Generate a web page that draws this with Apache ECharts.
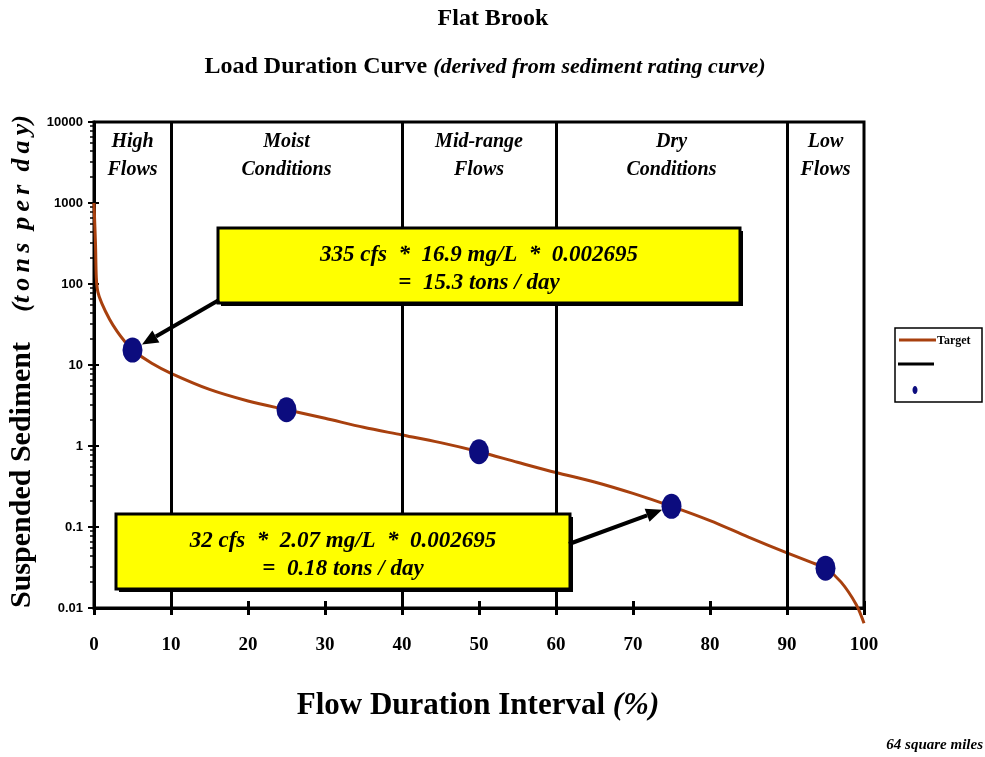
<!DOCTYPE html>
<html><head><meta charset="utf-8">
<script src="https://cdn.jsdelivr.net/npm/echarts@6/dist/echarts.min.js"></script>
<style>html,body{margin:0;padding:0;background:#fff}#c{width:985px;height:757px}</style>
</head><body><div id="c"></div>
<script>
// ---- data ----
const flowPct  = [0, 0.2, 0.3, 0.5, 1, 2, 3, 4, 5, 7.5, 10, 15, 20, 25, 30, 35, 40, 45, 50, 55, 60, 65, 70, 75, 80, 85, 90, 93, 95, 97, 99, 100];
const loadTons = [1000, 300, 120, 80, 58, 37, 26, 19.5, 15.3, 10.5, 7.9, 5.0, 3.6, 2.8, 2.2, 1.7, 1.37, 1.1, 0.85, 0.63, 0.47, 0.36, 0.26, 0.18, 0.12, 0.075, 0.048, 0.037, 0.031, 0.021, 0.011, 0.0065];
const pointPct  = [5, 25, 50, 75, 95];
const pointTons = [15.3, 2.8, 0.85, 0.18, 0.031];
const xTickLabels = ['0','10','20','30','40','50','60','70','80','90','100'];
const yTickLabels = ['0.01','0.1','1','10','100','1000','10000'];
const zoneEdges = [0, 10, 40, 60, 90, 100];
const zoneNames = ['High\nFlows', 'Moist\nConditions', 'Mid-range\nFlows', 'Dry\nConditions', 'Low\nFlows'];
const note1 = ['335 cfs  *  16.9 mg/L  *  0.002695', '=  15.3 tons / day'];
const note2 = ['32 cfs  *  2.07 mg/L  *  0.002695', '=  0.18 tons / day'];

const SERIF = '"Liberation Serif", "DejaVu Serif", serif';
const NARROW = '"Liberation Sans Narrow", "Liberation Sans", sans-serif';
const brown = '#a8400e';
const navy = '#0c0c7e';

const chart = echarts.init(document.getElementById('c'));
const grid = {left: 94, right: 121, top: 122, bottom: 149, show: true, borderColor: '#000', borderWidth: 3, backgroundColor: 'transparent'};

const zoneAreas = zoneNames.map((n, i) => [{xAxis: zoneEdges[i], name: n}, {xAxis: zoneEdges[i + 1]}]);
const innerLines = zoneEdges.slice(1, -1).map(v => ({xAxis: v}));

chart.setOption({
  animation: false,
  backgroundColor: '#fff',
  grid: grid,
  xAxis: [{
    type: 'value', min: 0, max: 100, interval: 10,
    axisLine: {lineStyle: {color: '#000', width: 3}},
    axisTick: {length: 7, lineStyle: {color: '#000', width: 3}},
    axisLabel: {margin: 28, fontFamily: SERIF, fontWeight: 'bold', fontSize: 19, color: '#000',
      formatter: (v) => xTickLabels[Math.round(v / 10)]},
    splitLine: {show: false}
  }, {
    type: 'value', min: 0, max: 100, interval: 10, position: 'bottom',
    axisLine: {show: false},
    axisTick: {inside: true, length: 7, lineStyle: {color: '#000', width: 3}},
    axisLabel: {show: false}, splitLine: {show: false}
  }],
  yAxis: [{
    type: 'log', min: 0.01, max: 10000, logBase: 10,
    axisLine: {show: true, lineStyle: {color: '#000', width: 3}},
    axisTick: {length: 6, lineStyle: {color: '#000', width: 2}},
    minorTick: {show: true, splitNumber: 8, length: 4, lineStyle: {color: '#000', width: 1.5}},
    axisLabel: {margin: 11, fontFamily: NARROW, fontWeight: 'bold', fontSize: 13, color: '#000',
      formatter: (v) => yTickLabels[Math.round(Math.log10(v)) + 2]},
    splitLine: {show: false}
  }, {
    type: 'log', min: 0.01, max: 10000, logBase: 10, position: 'left',
    axisLine: {show: false},
    axisTick: {inside: true, length: 5, lineStyle: {color: '#000', width: 2}},
    axisLabel: {show: false}, splitLine: {show: false}
  }],
  series: [{
    name: 'Target', type: 'line', xAxisIndex: 0, yAxisIndex: 0,
    data: flowPct.map((x, i) => [x, loadTons[i]]),
    smooth: 0.3, showSymbol: false, clip: false,
    lineStyle: {color: brown, width: 3}, z: 3,
    markLine: {
      silent: true, symbol: 'none', label: {show: false},
      lineStyle: {color: '#000', width: 3, type: 'solid'},
      data: innerLines
    },
    markArea: {
      silent: true, itemStyle: {color: 'rgba(0,0,0,0)'},
      label: {show: true, position: 'insideTop', distance: 6, color: '#000',
        fontFamily: SERIF, fontStyle: 'italic', fontWeight: 'bold', fontSize: 20, lineHeight: 28, align: 'center'},
      data: zoneAreas
    }
  }, {
    name: 'points', type: 'scatter', xAxisIndex: 0, yAxisIndex: 0,
    data: pointPct.map((x, i) => [x, pointTons[i]]),
    symbol: 'circle', symbolSize: [20, 25], itemStyle: {color: navy, opacity: 1}, z: 5
  }]
});

function textBox(x, y, w, h, lines) {
  return {
    type: 'group', children: [
      {type: 'rect', shape: {x: x + 3, y: y + 3, width: w, height: h}, style: {fill: '#000'}, z: 10},
      {type: 'rect', shape: {x: x, y: y, width: w, height: h}, style: {fill: '#ffff00', stroke: '#000', lineWidth: 3}, z: 11},
      {type: 'text', x: x + w / 2, y: y + 27, z: 12, style: {text: lines[0], fill: '#000', align: 'center', verticalAlign: 'middle',
        font: 'italic bold 23px ' + SERIF}},
      {type: 'text', x: x + w / 2, y: y + 55, z: 12, style: {text: lines[1], fill: '#000', align: 'center', verticalAlign: 'middle',
        font: 'italic bold 23px ' + SERIF}}
    ]
  };
}

function arrow(from, target, r) {
  const dx = target[0] - from[0], dy = target[1] - from[1];
  const L = Math.sqrt(dx * dx + dy * dy);
  const ux = dx / L, uy = dy / L;
  const tip = [target[0] - ux * r, target[1] - uy * r];
  const hl = 16, hw = 7;
  const base = [tip[0] - ux * hl, tip[1] - uy * hl];
  return {
    type: 'group', children: [
      {type: 'line', shape: {x1: from[0], y1: from[1], x2: base[0], y2: base[1]}, style: {stroke: '#000', lineWidth: 4}, z: 13},
      {type: 'polygon', shape: {points: [tip, [base[0] - uy * hw, base[1] + ux * hw], [base[0] + uy * hw, base[1] - ux * hw]]}, style: {fill: '#000'}, z: 13}
    ]
  };
}

const p1 = chart.convertToPixel({seriesIndex: 1}, [pointPct[0], pointTons[0]]);
const p2 = chart.convertToPixel({seriesIndex: 1}, [pointPct[3], pointTons[3]]);

chart.setOption({
  graphic: [
    {type: 'text', x: 493, y: 19, style: {text: 'Flat Brook', align: 'center', verticalAlign: 'middle', font: 'bold 24px ' + SERIF, fill: '#000'}},
    {type: 'text', x: 485, y: 67, style: {
      text: '{a|Load Duration Curve }{b|(derived from sediment rating curve)}', align: 'center', verticalAlign: 'middle',
      rich: {a: {font: 'bold 24px ' + SERIF, fill: '#000'}, b: {font: 'italic bold 22px ' + SERIF, fill: '#000'}}}},
    {type: 'text', x: 22, y: 608, rotation: Math.PI / 2, style: {
      text: 'Suspended Sediment', align: 'left', verticalAlign: 'middle', font: 'bold 30px ' + SERIF, fill: '#000'}},
    {type: 'text', x: 22, y: 115, rotation: Math.PI / 2, style: {
      text: '(t\u2009o\u2009n\u2009s  p\u2009e\u2009r  d\u2009a\u2009y)', align: 'right', verticalAlign: 'middle', font: 'italic bold 26px ' + SERIF, fill: '#000'}},
    {type: 'text', x: 478, y: 706, style: {
      text: '{a|Flow Duration Interval }{b|(%)}', align: 'center', verticalAlign: 'middle',
      rich: {a: {font: 'bold 31px ' + SERIF, fill: '#000'}, b: {font: 'italic bold 31px ' + SERIF, fill: '#000'}}}},
    {type: 'text', x: 983, y: 745, style: {text: '64 square miles', align: 'right', verticalAlign: 'middle', font: 'italic bold 15px ' + SERIF, fill: '#000'}},
    // legend
    {type: 'rect', shape: {x: 895, y: 328, width: 87, height: 74}, style: {fill: '#fff', stroke: '#000', lineWidth: 1.5}, z: 10},
    {type: 'line', shape: {x1: 899, y1: 340, x2: 936, y2: 340}, style: {stroke: brown, lineWidth: 3}, z: 11},
    {type: 'text', x: 937, y: 341, style: {text: 'Target', verticalAlign: 'middle', font: 'bold 12px ' + SERIF, fill: '#000'}, z: 11},
    {type: 'line', shape: {x1: 898, y1: 364, x2: 934, y2: 364}, style: {stroke: '#000', lineWidth: 3}, z: 11},
    {type: 'ellipse', shape: {cx: 915, cy: 390, rx: 2.5, ry: 4}, style: {fill: navy}, z: 11},
    textBox(218, 228, 522, 75, note1),
    textBox(116, 514, 454, 75, note2),
    arrow([219, 300], p1, 11),
    arrow([569, 544], p2, 10)
  ]
});
</script>
</body></html>
